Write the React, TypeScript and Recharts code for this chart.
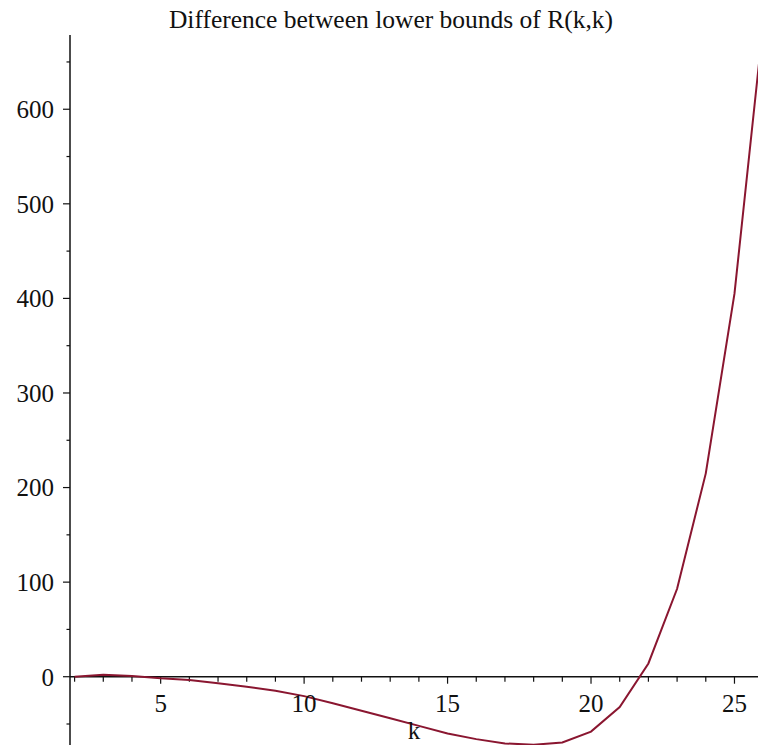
import React from 'react';
import { LineChart, Line, XAxis, YAxis, ReferenceLine } from 'recharts';

// k values and the plotted difference
const K_VALUES = [2, 3, 4, 5, 6, 7, 8, 9, 10, 11, 12, 13, 14, 15, 16, 17, 18, 19, 20, 21, 22, 23, 24, 25, 26];
const DIFF = [0, 2, 0.8, -1.7, -3.5, -7, -10.5, -14.8, -20.5, -28, -36, -44, -52, -60, -66, -70.5, -72, -69.5, -58, -32, 14, 93, 215, 405, 690];

const X_MAJOR = [5, 10, 15, 20, 25];
const X_MINOR = [2, 3, 4, 6, 7, 8, 9, 11, 12, 13, 14, 16, 17, 18, 19, 21, 22, 23, 24];
const Y_MAJOR = [0, 100, 200, 300, 400, 500, 600];
const Y_MINOR = [-50, 50, 150, 250, 350, 450, 550, 650];

const X_DOMAIN: [number, number] = [1.84, 25.82];
const Y_DOMAIN: [number, number] = [-72.2, 678.5];

const TITLE = 'Difference between lower bounds of R(k,k)';
const X_LABEL = 'k';

const data = K_VALUES.map((k, i) => ({ k, diff: DIFF[i] }));

const FONT = '"Liberation Serif", "Times New Roman", serif';
const LINE_COLOR = '#8a1630';
const AXIS_COLOR = '#111';
const LABEL_SIZE = 25;

// pixel -> data unit helpers for tick lengths (plot is 688 x 710 px)
const X_PER_PX = (X_DOMAIN[1] - X_DOMAIN[0]) / 688;
const Y_PER_PX = (Y_DOMAIN[1] - Y_DOMAIN[0]) / 710;

export default function App() {
  return (
    <div style={{ position: 'absolute', left: 0, top: 0, width: 758, height: 748, background: '#fff' }}>
      <div
        style={{
          position: 'absolute',
          left: 0,
          top: 7,
          width: 782,
          textAlign: 'center',
          fontFamily: FONT,
          fontSize: 25.5,
          lineHeight: '25px',
          color: AXIS_COLOR,
          whiteSpace: 'nowrap'
        }}
      >
        {TITLE}
      </div>
      <LineChart width={758} height={748} data={data} margin={{ top: 35, right: 0, bottom: 3, left: 0 }}>
        <XAxis type="number" dataKey="k" domain={X_DOMAIN} allowDataOverflow hide />
        <YAxis
          type="number"
          domain={Y_DOMAIN}
          allowDataOverflow
          ticks={Y_MAJOR}
          interval={0}
          width={70}
          tickSize={7}
          tickMargin={9}
          axisLine={{ stroke: AXIS_COLOR, strokeWidth: 1.5 }}
          tickLine={{ stroke: AXIS_COLOR, strokeWidth: 1.2 }}
          tick={{ fill: AXIS_COLOR, fontSize: LABEL_SIZE, fontFamily: FONT }}
        />

        {/* minor y ticks */}
        {Y_MINOR.map((v) => (
          <ReferenceLine
            key={`ym-${v}`}
            segment={[{ x: X_DOMAIN[0], y: v }, { x: X_DOMAIN[0] - 3.5 * X_PER_PX, y: v }]}
            stroke={AXIS_COLOR}
            strokeWidth={1.2}
            ifOverflow="visible"
          />
        ))}

        {/* x axis drawn at y = 0 */}
        <ReferenceLine
          y={0}
          stroke={AXIS_COLOR}
          strokeWidth={1.5}
          label={{ value: X_LABEL, position: 'bottom', offset: 45, fill: AXIS_COLOR, fontSize: LABEL_SIZE, fontFamily: FONT }}
        />
        {X_MINOR.map((k) => (
          <ReferenceLine
            key={`xm-${k}`}
            segment={[{ x: k, y: 0 }, { x: k, y: -5 * Y_PER_PX }]}
            stroke={AXIS_COLOR}
            strokeWidth={1.2}
            ifOverflow="visible"
          />
        ))}
        {X_MAJOR.map((k) => (
          <ReferenceLine
            key={`xM-${k}`}
            segment={[{ x: k, y: 0 }, { x: k, y: -7 * Y_PER_PX }]}
            stroke={AXIS_COLOR}
            strokeWidth={1.2}
            ifOverflow="visible"
            label={{ value: String(k), position: 'bottom', offset: 11, fill: AXIS_COLOR, fontSize: LABEL_SIZE, fontFamily: FONT }}
          />
        ))}

        <Line
          type="linear"
          dataKey="diff"
          stroke={LINE_COLOR}
          strokeWidth={2}
          dot={false}
          isAnimationActive={false}
        />
      </LineChart>
    </div>
  );
}
